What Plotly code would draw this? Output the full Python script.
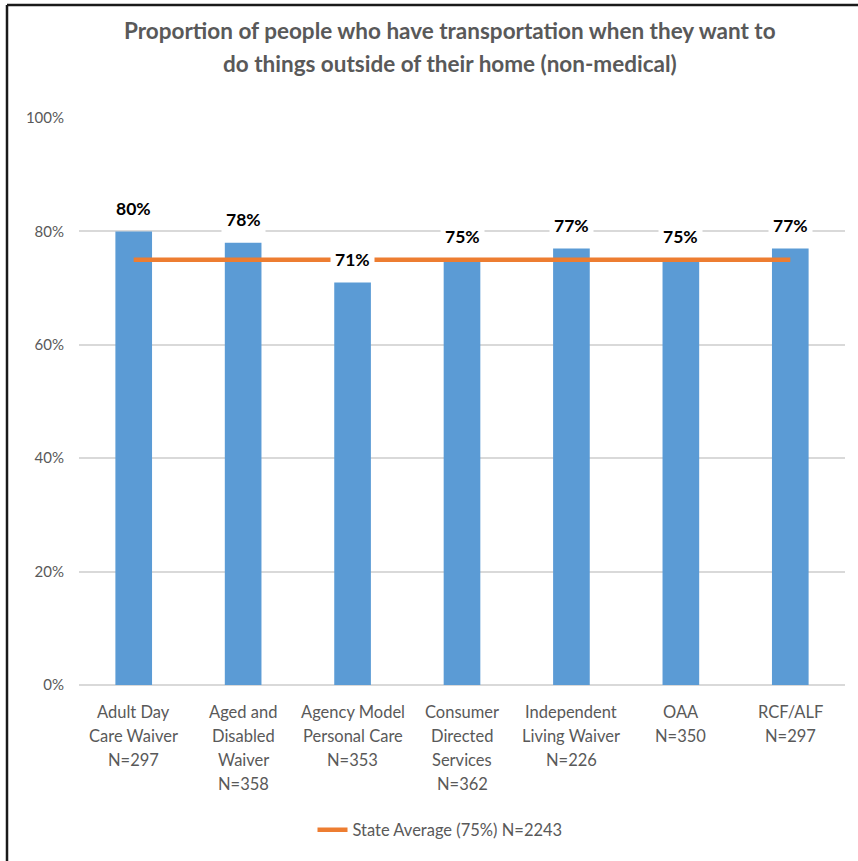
import plotly.graph_objects as go

# Programme names with respondent counts, shown as multi-line category labels
programs = [
    "Adult Day<br>Care Waiver<br>N=297",
    "Aged and<br>Disabled<br>Waiver<br>N=358",
    "Agency Model<br>Personal Care<br>N=353",
    "Consumer<br>Directed<br>Services<br>N=362",
    "Independent<br>Living Waiver<br>N=226",
    "OAA<br>N=350",
    "RCF/ALF<br>N=297",
]
# Share of people with transportation for non-medical outings
proportions = [0.80, 0.78, 0.71, 0.75, 0.77, 0.75, 0.77]
state_average = 0.75
state_label = "State Average (75%) N=2243"

title_lines = [
    "Proportion of people who have transportation when they want to",
    "do things outside of their home (non-medical)",
]

y_ticks = [0, 0.2, 0.4, 0.6, 0.8, 1.0]
y_tick_text = ["0%", "20%", "40%", "60%", "80%", "100%"]

GRAY = "#595959"
FONT = "Lato"

# plot-area geometry in pixels
W, H = 858, 861
L, R, T, B = 79, 13, 118, 176
PW, PH = W - L - R, H - T - B

fig = go.Figure()

fig.add_trace(go.Bar(
    x=programs,
    y=proportions,
    marker=dict(color="#5B9BD5", line=dict(width=0)),
    showlegend=False,
    hoverinfo="skip",
))

fig.add_trace(go.Scatter(
    x=programs,
    y=[state_average] * len(programs),
    mode="lines",
    line=dict(color="#ED7D31", width=4.5),
    name=state_label,
    hoverinfo="skip",
))

# Value labels above each bar, on a white box that masks lines behind them
for name, value in zip(programs, proportions):
    fig.add_annotation(
        x=name, y=value,
        text=f"<b>{round(value * 100)}%</b>",
        showarrow=False,
        yanchor="middle",
        yshift=23,
        bgcolor="white",
        borderpad=4,
        font=dict(family=FONT, size=17.5, color="#000000"),
    )

# Category labels under the axis, one line at a time for looser line spacing
for name in programs:
    for i, part in enumerate(name.split("<br>")):
        fig.add_annotation(
            x=name, y=0, yref="paper",
            text=part,
            showarrow=False,
            xanchor="center", yanchor="middle",
            yshift=-(27 + 24 * i),
            font=dict(family=FONT, size=16.5, color=GRAY),
        )

# Two-line chart title
for line_text, y_px in zip(title_lines, [31, 64]):
    fig.add_annotation(
        xref="paper", yref="paper",
        x=(450 - L) / PW, y=1 + (T - y_px) / PH,
        xanchor="center", yanchor="middle",
        text=f"<b>{line_text}</b>",
        showarrow=False,
        font=dict(family=FONT, size=22.5, color=GRAY),
    )

fig.update_layout(
    width=W,
    height=H,
    paper_bgcolor="white",
    plot_bgcolor="white",
    margin=dict(l=L, r=R, t=T, b=B),
    font=dict(family=FONT, color=GRAY),
    bargap=0.665,
    legend=dict(
        orientation="h",
        x=(440 - L) / PW,
        xanchor="center",
        y=-(830 - (T + PH)) / PH,
        yanchor="middle",
        font=dict(family=FONT, size=16.5, color=GRAY),
        bgcolor="rgba(0,0,0,0)",
    ),
    xaxis=dict(
        showgrid=False,
        showline=False,
        ticks="",
        showticklabels=False,
        fixedrange=True,
    ),
    yaxis=dict(
        range=[0, 1],
        tickvals=y_ticks,
        ticktext=y_tick_text,
        showgrid=True,
        gridcolor="#D9D9D9",
        gridwidth=1.5,
        zeroline=True,
        zerolinecolor="#D9D9D9",
        zerolinewidth=1.5,
        showline=False,
        ticks="",
        ticklabelstandoff=14,
        tickfont=dict(family=FONT, size=15, color=GRAY),
        fixedrange=True,
    ),
    shapes=[
        # dark frame along the top and left edges
        dict(type="line", xref="paper", yref="paper",
             x0=(7 - L) / PW, x1=1.2, y0=1 + (T - 5) / PH, y1=1 + (T - 5) / PH,
             line=dict(color="#1a1a1a", width=2.5)),
        dict(type="line", xref="paper", yref="paper",
             x0=(7 - L) / PW, x1=(7 - L) / PW, y0=-0.4, y1=1 + (T - 5) / PH,
             line=dict(color="#1a1a1a", width=2.5)),
    ],
)

fig.write_html("out.html")
